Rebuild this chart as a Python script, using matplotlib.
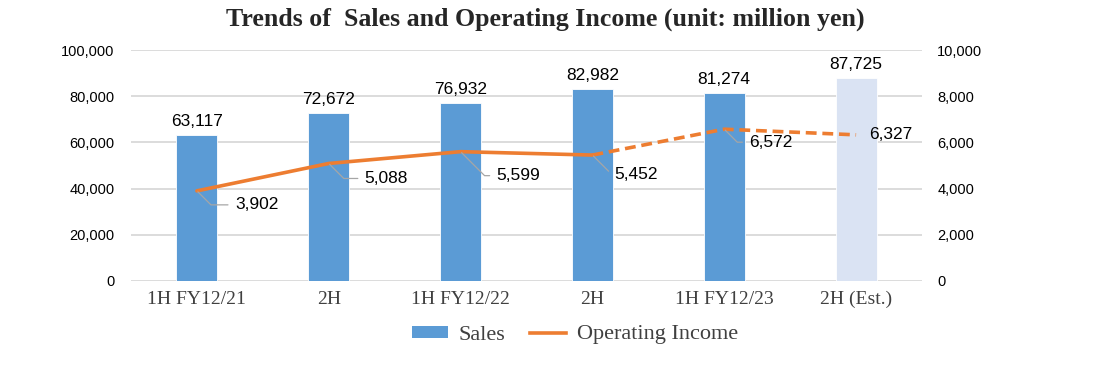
import matplotlib
matplotlib.use("Agg")
import matplotlib.pyplot as plt
from matplotlib.lines import Line2D
from matplotlib.patches import Patch

categories = ["1H FY12/21", "2H", "1H FY12/22", "2H", "1H FY12/23", "2H (Est.)"]
sales = [63117, 72672, 76932, 82982, 81274, 87725]
op_income = [3902, 5088, 5599, 5452, 6572, 6327]
left_ticks = [0, 20000, 40000, 60000, 80000, 100000]
right_ticks = [0, 2000, 4000, 6000, 8000, 10000]

# label offsets in pixels (style)
oi_offsets = [(38, -14), (36, -15), (36, -24), (22, -19), (25, -13), (13, 0)]

BLUE = "#5B9BD5"
LIGHT = "#DAE3F3"
ORANGE = "#ED7D31"
GRID = "#D9D9D9"

fig = plt.figure(figsize=(10.93, 3.69), dpi=100)
ax = fig.add_axes([131/1093, 1-281/369, (922-131)/1093, (281-50)/369])
ax2 = ax.twinx()

x = list(range(len(categories)))
colors = [BLUE]*(len(categories)-1) + [LIGHT]
ax.bar(x, sales, width=0.31, color=colors, edgecolor="white", linewidth=0.6, zorder=2)
ax.set_ylim(0, 100000)
ax.set_xlim(-0.5, len(categories)-0.5)
ax.set_yticks(left_ticks)
ax.set_yticklabels([f"{t:,}" for t in left_ticks], fontfamily="Liberation Sans", fontsize=10.5)
ax.set_xticks(x)
ax.set_xticklabels(categories, fontfamily="Liberation Serif", fontsize=14, color="#404040")
ax.tick_params(axis="both", length=0)
ax.tick_params(axis="y", pad=12)
ax.tick_params(axis="x", pad=7)
ax.grid(axis="y", color=GRID, linewidth=1.3, zorder=0)
ax.set_axisbelow(True)
for s in ax.spines.values():
    s.set_visible(False)
for s in ax2.spines.values():
    s.set_visible(False)

for xi, v in zip(x, sales):
    ax.annotate(f"{v:,}", (xi, v), xytext=(0, 6), textcoords="offset pixels",
                ha="center", va="bottom", fontfamily="Liberation Sans", fontsize=12.5,
                color="black")

ax2.set_ylim(0, 10000)
ax2.set_yticks(right_ticks)
ax2.set_yticklabels([f"{t:,}" for t in right_ticks], fontfamily="Liberation Sans", fontsize=10.5)
ax2.tick_params(axis="y", length=0, pad=11)

ax2.plot(x[:4], op_income[:4], color=ORANGE, linewidth=2.6, solid_capstyle="round", zorder=3)
ax2.plot(x[3:], op_income[3:], color=ORANGE, linewidth=2.6, linestyle=(0, (3, 1.6)), zorder=3)

for i, (xi, v) in enumerate(zip(x, op_income)):
    dx, dy = oi_offsets[i]
    arrow = None
    if i < len(x) - 1:
        arrow = dict(arrowstyle="-", color="#A6A6A6", lw=0.9, shrinkA=3, shrinkB=1,
                     relpos=(0, 0.5), connectionstyle="angle,angleA=0,angleB=-45,rad=0")
    ax2.annotate(f"{v:,}", (xi, v), xytext=(dx, dy), textcoords="offset pixels",
                 ha="left", va="center", fontfamily="Liberation Sans", fontsize=12.5,
                 color="black", arrowprops=arrow, zorder=4)

fig.text(545/1093, 1-19/369, "Trends of  Sales and Operating Income (unit: million yen)",
         ha="center", va="center", fontfamily="Liberation Serif", fontweight="bold",
         fontsize=18.6, color="#262626")

handles = [Patch(facecolor=BLUE, edgecolor="none"),
           Line2D([0], [0], color=ORANGE, linewidth=2.6)]
fig.legend(handles, ["Sales", "Operating Income"], loc="center",
           bbox_to_anchor=(575/1093, 1-335/369), ncol=2, frameon=False,
           prop={"family": "Liberation Serif", "size": 16}, handlelength=1.6,
           handleheight=0.45, columnspacing=1.1, handletextpad=0.5, labelcolor="#404040")

fig.savefig("out.png", dpi=100)
